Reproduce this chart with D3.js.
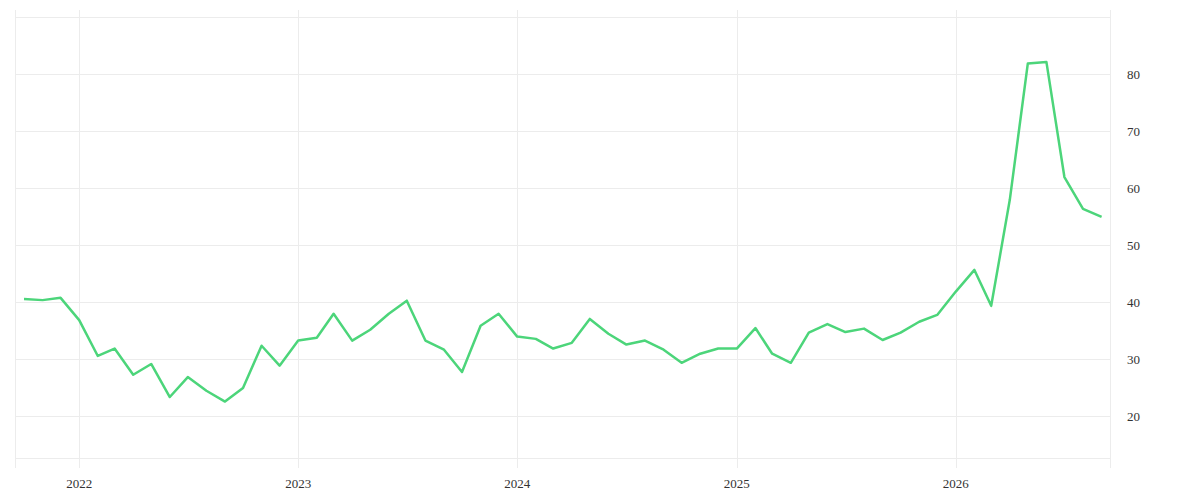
<!DOCTYPE html>
<html><head><meta charset="utf-8">
<script src="https://cdn.jsdelivr.net/npm/d3@7"></script>
<style>body{margin:0;background:#fff}</style>
</head><body><div id="chart"></div>
<script>
var startMonth = "2021-10";
var values = [40.5,40.3,40.7,36.8,30.5,31.8,27.2,29.1,23.3,26.8,24.4,22.5,24.9,32.3,28.8,
  33.2,33.7,37.9,33.2,35.1,37.9,40.2,33.2,31.6,27.7,35.8,37.9,
  33.9,33.5,31.8,32.8,37.0,34.4,32.5,33.2,31.6,29.3,30.9,31.8,
  31.8,35.4,30.9,29.3,34.6,36.1,34.7,35.3,33.3,34.6,36.5,37.7,
  41.8,45.6,39.3,57.9,81.8,82.1,61.9,56.3,54.9];
var yTicks = [20,30,40,50,60,70,80];
var gridTicks = [20,30,40,50,60,70,80,90];
var yearTicks = ["2022","2023","2024","2025","2026"];

var width = 1200, height = 500;
var parse = d3.timeParse("%Y-%m");
var t0 = parse(startMonth);
var data = values.map(function(v, i) { return {date: d3.timeMonth.offset(t0, i), value: v}; });

var x = d3.scaleTime()
    .domain([new Date(2021, 8, 16), new Date(2026, 8, 15)])
    .range([15, 1110]);
var y = d3.scaleLinear().domain([12.6, 89.8]).range([458, 18]);

var svg = d3.select("#chart").append("svg").attr("width", width).attr("height", height);

svg.append("g").selectAll("line").data(gridTicks).join("line")
    .attr("x1", 15).attr("x2", 1110)
    .attr("y1", function(d) { return Math.round(y(d)) + 0.5; })
    .attr("y2", function(d) { return Math.round(y(d)) + 0.5; })
    .attr("stroke", "#ececec");
svg.append("line").attr("x1", 15).attr("x2", 1110).attr("y1", 458.5).attr("y2", 458.5).attr("stroke", "#ececec");

var xg = [x.domain()[0]].concat(yearTicks.map(function(d) { return new Date(+d, 0, 1); }), [x.domain()[1]]);
svg.append("g").selectAll("line").data(xg).join("line")
    .attr("x1", function(d) { return Math.round(x(d)) + 0.5; })
    .attr("x2", function(d) { return Math.round(x(d)) + 0.5; })
    .attr("y1", 10).attr("y2", 468)
    .attr("stroke", "#ececec");

svg.append("g").selectAll("text").data(yearTicks).join("text")
    .attr("x", function(d) { return x(new Date(+d, 0, 1)); })
    .attr("y", 488).attr("text-anchor", "middle")
    .attr("font-family", "Liberation Serif, serif").attr("font-size", 13).attr("fill", "#333")
    .text(function(d) { return d; });

svg.append("g").selectAll("text").data(yTicks).join("text")
    .attr("x", 1127).attr("y", function(d) { return y(d) + 5; })
    .attr("font-family", "Liberation Serif, serif").attr("font-size", 13).attr("fill", "#333")
    .text(function(d) { return d; });

var line = d3.line()
    .x(function(d) { return x(d.date); })
    .y(function(d) { return y(d.value); });

svg.append("path").datum(data)
    .attr("d", line).attr("fill", "none")
    .attr("stroke", "#4cd57a").attr("stroke-width", 2.5)
    .attr("stroke-linejoin", "round");
</script>
</body></html>
